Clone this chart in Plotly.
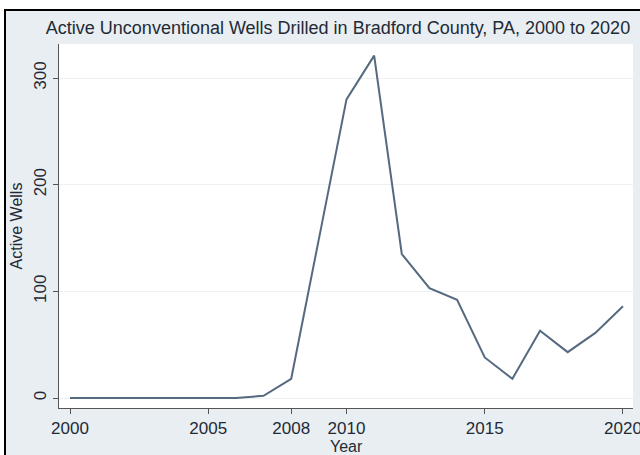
import plotly.graph_objects as go

# Active unconventional wells drilled per year, Bradford County, PA
years = [2000, 2001, 2002, 2003, 2004, 2005, 2006, 2007, 2008, 2009,
         2010, 2011, 2012, 2013, 2014, 2015, 2016, 2017, 2018, 2019, 2020]
active_wells = [0, 0, 0, 0, 0, 0, 0, 2, 18, 149,
                280, 321, 135, 103, 92, 38, 18, 63, 43, 61, 86]

x_ticks = [2000, 2005, 2008, 2010, 2015, 2020]
y_ticks = [0, 100, 200, 300]

W, H = 640, 455
L, R, T, B = 59, 7, 44, 47
pw, ph = W - L - R, H - T - B


def px_x(px):
    return (px - L) / pw


def px_y(py):
    return (H - B - py) / ph


FONT = "Liberation Sans, Arial, sans-serif"
TEXT = "#1f2a36"
OUTER_BG = "#e8eef2"

fig = go.Figure()
fig.add_trace(go.Scatter(
    x=years, y=active_wells, mode="lines",
    line=dict(color="#55697f", width=2),
    hoverinfo="skip", showlegend=False,
))

shapes = [
    # white frame outside the graph border
    dict(type="rect", xref="paper", yref="paper",
         x0=px_x(-5), x1=px_x(W + 5), y0=px_y(9), y1=px_y(-5),
         fillcolor="white", line=dict(width=0), layer="above"),
    dict(type="rect", xref="paper", yref="paper",
         x0=px_x(-5), x1=px_x(4), y0=px_y(H + 5), y1=px_y(-5),
         fillcolor="white", line=dict(width=0), layer="above"),
    # black border lines
    dict(type="line", xref="paper", yref="paper",
         x0=px_x(4), x1=px_x(W + 5), y0=px_y(10), y1=px_y(10),
         line=dict(color="black", width=2), layer="above"),
    dict(type="line", xref="paper", yref="paper",
         x0=px_x(5), x1=px_x(5), y0=px_y(9), y1=px_y(H + 5),
         line=dict(color="black", width=2), layer="above"),
]

fig.update_layout(
    width=W, height=H,
    margin=dict(l=L, r=R, t=T, b=B, autoexpand=False),
    paper_bgcolor=OUTER_BG,
    plot_bgcolor="white",
    font=dict(family=FONT, color=TEXT, size=16),
    title=dict(
        text="Active Unconventional Wells Drilled in Bradford County, PA, 2000 to 2020",
        font=dict(family=FONT, size=18, color=TEXT),
        x=338 / W, xanchor="center",
        y=1 - 28 / H, yanchor="middle",
    ),
    xaxis=dict(
        range=[1999.602, 2020.362],
        automargin=False,
        tickmode="array", tickvals=x_ticks,
        ticktext=[str(v) for v in x_ticks],
        ticks="outside", ticklen=5, tickcolor="#555555", tickwidth=1,
        tickfont=dict(size=17, color=TEXT),
        ticklabeloverflow="allow",
        showline=True, linecolor="#555555", linewidth=1,
        showgrid=False, zeroline=False,
    ),
    yaxis=dict(
        range=[-9.375, 331.9],
        automargin=False,
        tickmode="array", tickvals=y_ticks,
        ticktext=[str(v) for v in y_ticks],
        tickangle=-90,
        ticks="outside", ticklen=5, tickcolor="#555555", tickwidth=1,
        tickfont=dict(size=17, color=TEXT),
        showline=True, linecolor="#555555", linewidth=1,
        showgrid=True, gridcolor="#eef1f4", gridwidth=1,
        zeroline=False,
        title=dict(text="Active Wells", font=dict(size=16, color=TEXT), standoff=4),
    ),
    annotations=[
        dict(text="Year", xref="paper", yref="paper",
             x=0.5, y=px_y(446), xanchor="center", yanchor="middle",
             showarrow=False, font=dict(size=16, color=TEXT)),
    ],
    shapes=shapes,
)

fig.write_html("out.html")
